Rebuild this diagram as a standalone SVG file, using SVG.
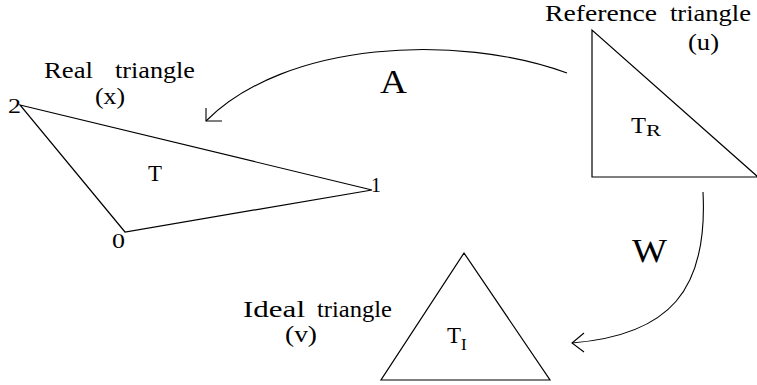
<svg xmlns="http://www.w3.org/2000/svg" width="757" height="385" viewBox="0 0 757 385">
<style>
.shape{fill:none;stroke:#000;stroke-width:1.2;stroke-linejoin:miter}
.conn{fill:none;stroke:#000;stroke-width:1.1}
.t{font-family:"Liberation Serif","Times New Roman",serif;fill:#000}
.lbl{font-size:23px}
.big{font-size:34px}
.dig{font-size:20px}
.sub{font-size:17px}
</style>
<rect width="757" height="385" fill="#fff"/>
<g id="real-triangle">
  <path class="shape" d="M20,105 L372,190 L125,232 Z"/>
  <text class="t lbl" x="44" y="78" textLength="49" lengthAdjust="spacingAndGlyphs">Real</text>
  <text class="t lbl" x="115" y="78" textLength="80" lengthAdjust="spacingAndGlyphs">triangle</text>
  <text class="t lbl" x="95" y="104" textLength="30" lengthAdjust="spacingAndGlyphs">(x)</text>
  <text class="t dig" x="8" y="113" textLength="13" lengthAdjust="spacingAndGlyphs">2</text>
  <text class="t dig" x="371" y="192">1</text>
  <text class="t dig" x="112" y="248" textLength="13" lengthAdjust="spacingAndGlyphs">0</text>
  <text class="t lbl" x="148" y="181" textLength="14" lengthAdjust="spacingAndGlyphs">T</text>
</g>
<g id="reference-triangle">
  <path class="shape" d="M592,30 L592,177 L758,177 Z"/>
  <text class="t lbl" x="545" y="21" textLength="112" lengthAdjust="spacingAndGlyphs">Reference</text>
  <text class="t lbl" x="670" y="21" textLength="81" lengthAdjust="spacingAndGlyphs">triangle</text>
  <text class="t lbl" x="688" y="50" textLength="31" lengthAdjust="spacingAndGlyphs">(u)</text>
  <text class="t lbl" x="631" y="133" textLength="15" lengthAdjust="spacingAndGlyphs">T</text>
  <text class="t sub" x="646" y="136" textLength="15" lengthAdjust="spacingAndGlyphs">R</text>
</g>
<g id="ideal-triangle">
  <path class="shape" d="M464,253 L381,380 L550,380 Z"/>
  <text class="t lbl" x="243" y="317" textLength="62" lengthAdjust="spacingAndGlyphs">Ideal</text>
  <text class="t lbl" x="317" y="317" textLength="75" lengthAdjust="spacingAndGlyphs">triangle</text>
  <text class="t lbl" x="285" y="342" textLength="32" lengthAdjust="spacingAndGlyphs">(v)</text>
  <text class="t lbl" x="447" y="343" textLength="14" lengthAdjust="spacingAndGlyphs">T</text>
  <text class="t sub" x="461" y="350">I</text>
</g>
<g id="connectors">
  <path class="conn" d="M567,73 C457,33 286,41 206,121"/>
  <path class="conn" d="M206,108 L206,121 L222,121"/>
  <text class="t big" x="380" y="93" textLength="27" lengthAdjust="spacingAndGlyphs">A</text>
  <path class="conn" d="M703,192 C708,290 670,335 572,343"/>
  <path class="conn" d="M584,333 L572,343 L584,352"/>
  <text class="t big" x="632" y="262" textLength="35" lengthAdjust="spacingAndGlyphs">W</text>
</g>
</svg>
